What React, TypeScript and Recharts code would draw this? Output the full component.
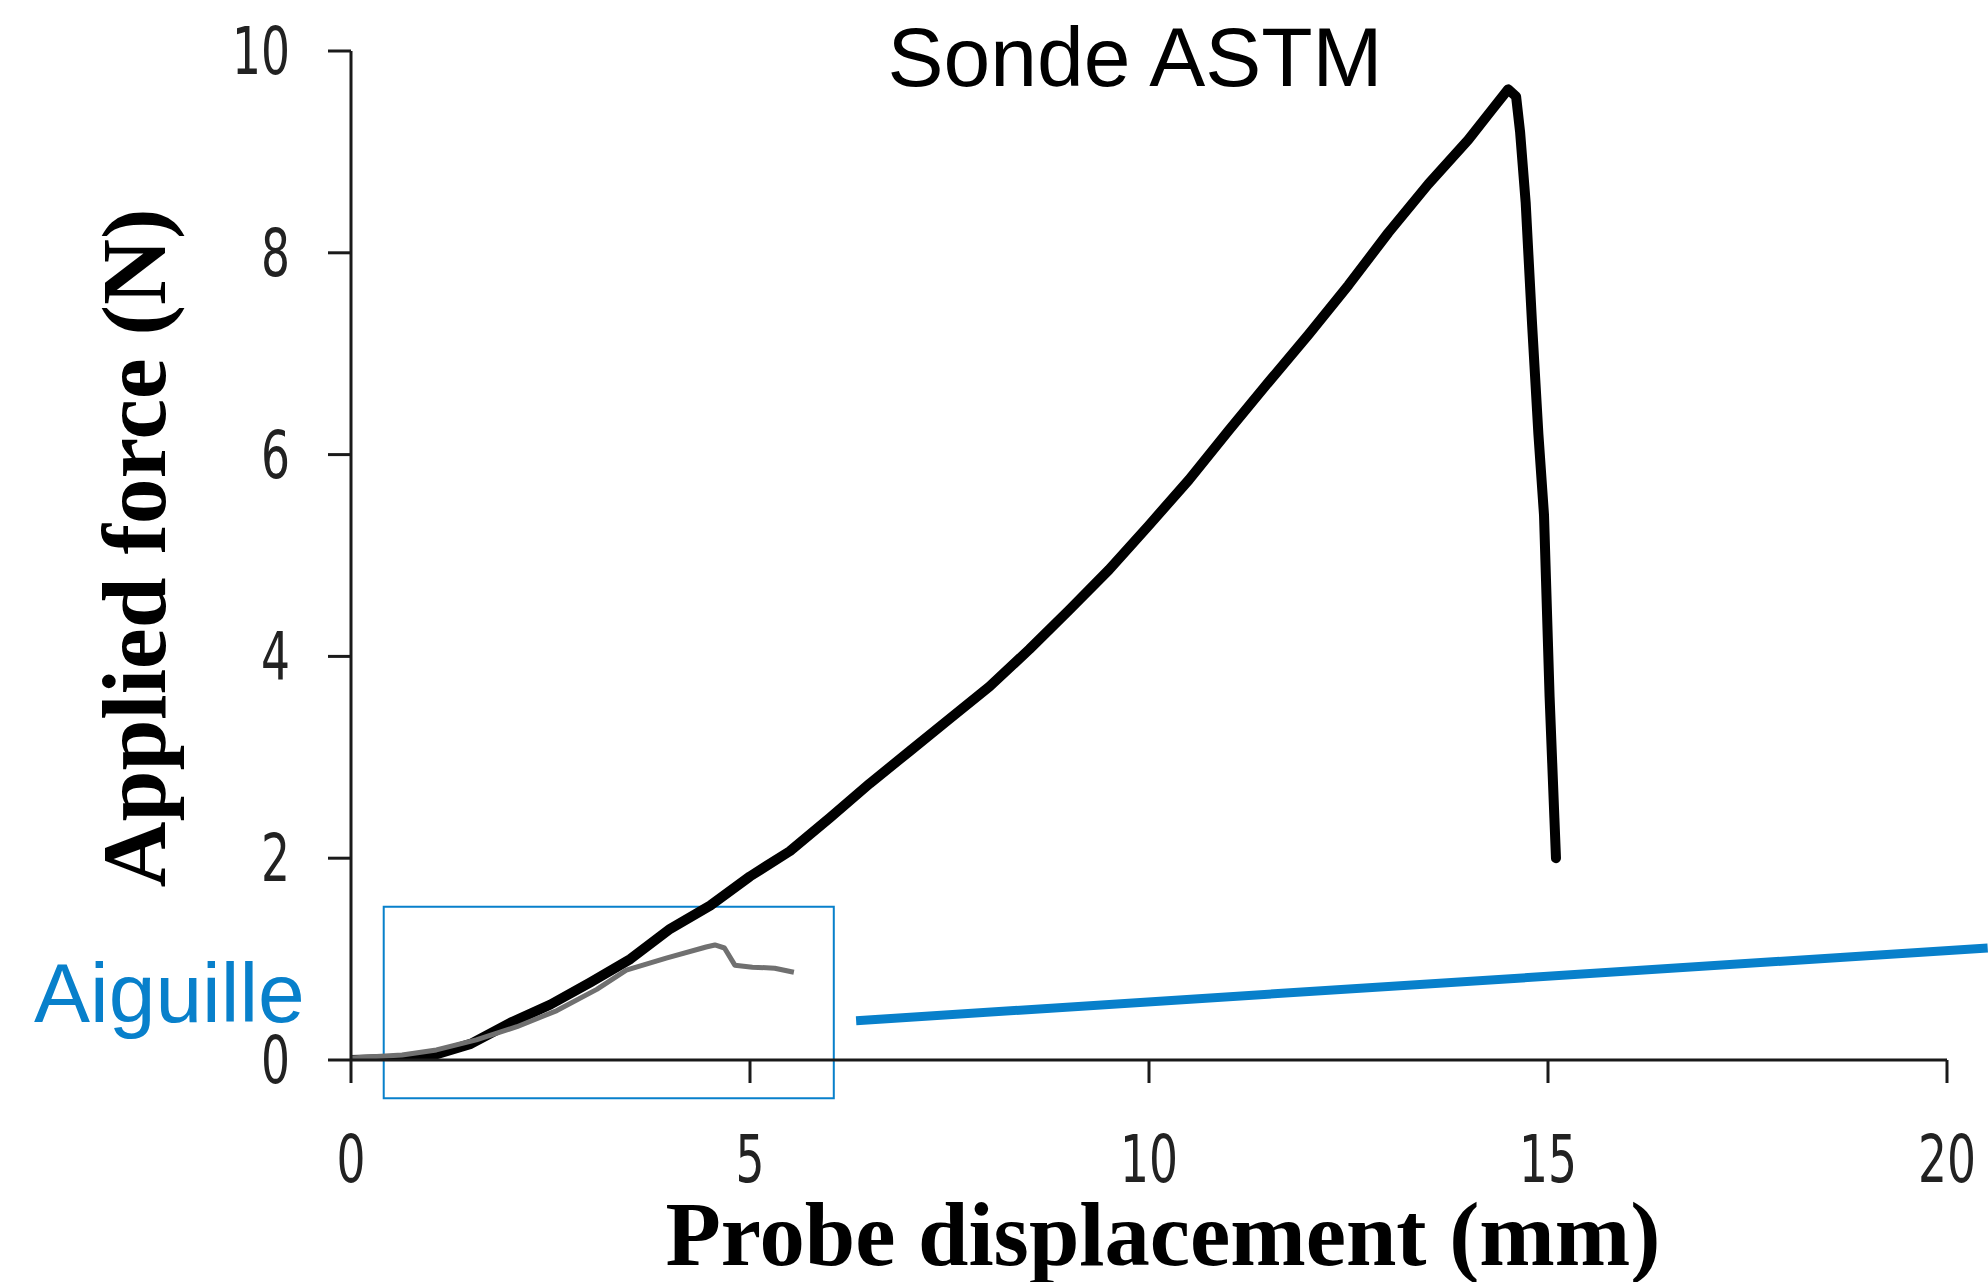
import React from "react";
import {
  ComposedChart,
  Line,
  XAxis,
  YAxis,
  ReferenceArea,
  ReferenceLine,
} from "recharts";

// Sonde ASTM (black curve)
const astmX = [0, 0.5, 1.0, 1.5, 2.0, 2.5, 3.0, 3.5, 4.0, 4.5, 5.0, 5.5, 6.0, 6.5, 7.0, 7.5, 8.0, 8.5, 9.0, 9.5, 10.0, 10.5, 11.0, 11.5, 12.0, 12.5, 13.0, 13.5, 14.0, 14.3, 14.5, 14.6, 14.65, 14.72, 14.8, 14.88, 14.95, 15.02, 15.08, 15.1];
const astmY = [0, 0.01, 0.04, 0.16, 0.37, 0.55, 0.77, 1.0, 1.3, 1.53, 1.82, 2.07, 2.4, 2.74, 3.06, 3.38, 3.7, 4.07, 4.46, 4.86, 5.3, 5.75, 6.24, 6.72, 7.19, 7.68, 8.2, 8.68, 9.12, 9.42, 9.62, 9.55, 9.2, 8.5, 7.3, 6.2, 5.4, 3.6, 2.4, 2.0];

// Aiguille (grey curve)
const needleX = [0, 0.64, 1.07, 1.57, 2.08, 2.58, 3.08, 3.45, 3.95, 4.45, 4.56, 4.68, 4.81, 5.03, 5.31, 5.55];
const needleY = [0.02, 0.05, 0.1, 0.2, 0.33, 0.49, 0.7, 0.89, 1.01, 1.12, 1.14, 1.11, 0.94, 0.92, 0.91, 0.87];

const xTicks = [0, 5, 10, 15, 20];
const yTicks = [0, 2, 4, 6, 8, 10];

const zoomBox = { x1: 0.41, x2: 6.05, y1: -0.38, y2: 1.52 };
const zoomLine = [
  { x: 6.33, y: 0.39 },
  { x: 20.51, y: 1.11 },
];

const titleText = "Sonde ASTM";
const needleLabel = "Aiguille";
const xLabel = "Probe displacement (mm)";
const yLabel = "Applied force (N)";

const astmData = astmX.map((x, i) => ({ x, y: astmY[i] }));
const needleData = needleX.map((x, i) => ({ x, y: needleY[i] }));

const BLUE = "#0880CB";
const AXIS = "#1a1a1a";
const TICK_FONT = "'Liberation Sans Narrow', 'Arial Narrow', 'DejaVu Sans Condensed', sans-serif";

const XTick = (props: any) => {
  const { x, y, payload } = props;
  const s = String(payload.value);
  return (
    <text
      x={x}
      y={y + 47}
      textAnchor="middle"
      fontFamily={TICK_FONT}
      fontSize={66}
      fill="#222"
      textLength={29 * s.length}
      lengthAdjust="spacingAndGlyphs"
    >
      {s}
    </text>
  );
};

const YTick = (props: any) => {
  const { x, y, payload } = props;
  const s = String(payload.value);
  return (
    <text
      x={x}
      y={y + 23}
      textAnchor="end"
      fontFamily={TICK_FONT}
      fontSize={66}
      fill="#222"
      textLength={29 * s.length}
      lengthAdjust="spacingAndGlyphs"
    >
      {s}
    </text>
  );
};

const XLabel = () => (
  <text
    x={1163}
    y={1265}
    textAnchor="middle"
    fontFamily="'Liberation Serif', 'Times New Roman', serif"
    fontWeight="bold"
    fontSize={91}
    fill="#000"
    textLength={995}
    lengthAdjust="spacingAndGlyphs"
  >
    {xLabel}
  </text>
);

const YLabel = () => (
  <text
    x={165}
    y={548}
    transform="rotate(-90 165 548)"
    textAnchor="middle"
    fontFamily="'Liberation Serif', 'Times New Roman', serif"
    fontWeight="bold"
    fontSize={91}
    fill="#000"
    textLength={679}
    lengthAdjust="spacingAndGlyphs"
  >
    {yLabel}
  </text>
);

export default function App() {
  return (
    <div style={{ position: "absolute", left: 0, top: 0, width: 1988, height: 1282, background: "#fff" }}>
      <ComposedChart
        width={1988}
        height={1282}
        margin={{ top: 51, right: 41, bottom: 122, left: 251 }}
      >
        <XAxis
          type="number"
          dataKey="x"
          domain={[0, 20]}
          ticks={xTicks}
          allowDataOverflow
          height={100}
          tickSize={23}
          tickMargin={52}
          tick={<XTick />}
          stroke={AXIS}
          strokeWidth={3}
          tickLine={{ stroke: AXIS, strokeWidth: 3 }}
          label={<XLabel />}
        />
        <YAxis
          type="number"
          dataKey="y"
          domain={[0, 10]}
          ticks={yTicks}
          allowDataOverflow
          width={100}
          tickSize={23}
          tickMargin={38}
          tick={<YTick />}
          stroke={AXIS}
          strokeWidth={3}
          tickLine={{ stroke: AXIS, strokeWidth: 3 }}
          label={<YLabel />}
        />
        <Line
          data={astmData}
          dataKey="y"
          type="linear"
          stroke="#000"
          strokeWidth={10}
          strokeLinejoin="round"
          strokeLinecap="round"
          dot={false}
          activeDot={false}
          isAnimationActive={false}
        />
        <Line
          data={needleData}
          dataKey="y"
          type="linear"
          stroke="#707070"
          strokeWidth={5}
          strokeLinejoin="round"
          dot={false}
          activeDot={false}
          isAnimationActive={false}
        />
        <ReferenceArea
          x1={zoomBox.x1}
          x2={zoomBox.x2}
          y1={zoomBox.y1}
          y2={zoomBox.y2}
          ifOverflow="visible"
          fill="none"
          fillOpacity={0}
          stroke={BLUE}
          strokeWidth={2}
        />
        <ReferenceLine
          segment={zoomLine}
          ifOverflow="visible"
          stroke={BLUE}
          strokeWidth={9}
        />
      </ComposedChart>
      <svg
        width={1988}
        height={1282}
        style={{ position: "absolute", left: 0, top: 0, pointerEvents: "none" }}
      >
        <text
          x={1135}
          y={86}
          textAnchor="middle"
          fontFamily="'Liberation Sans', Arial, sans-serif"
          fontSize={84}
          fill="#000"
        >
          {titleText}
        </text>
        <text
          x={34}
          y={1022}
          textAnchor="start"
          fontFamily="'Liberation Sans', Arial, sans-serif"
          fontSize={84}
          fill={BLUE}
        >
          {needleLabel}
        </text>
      </svg>
    </div>
  );
}
